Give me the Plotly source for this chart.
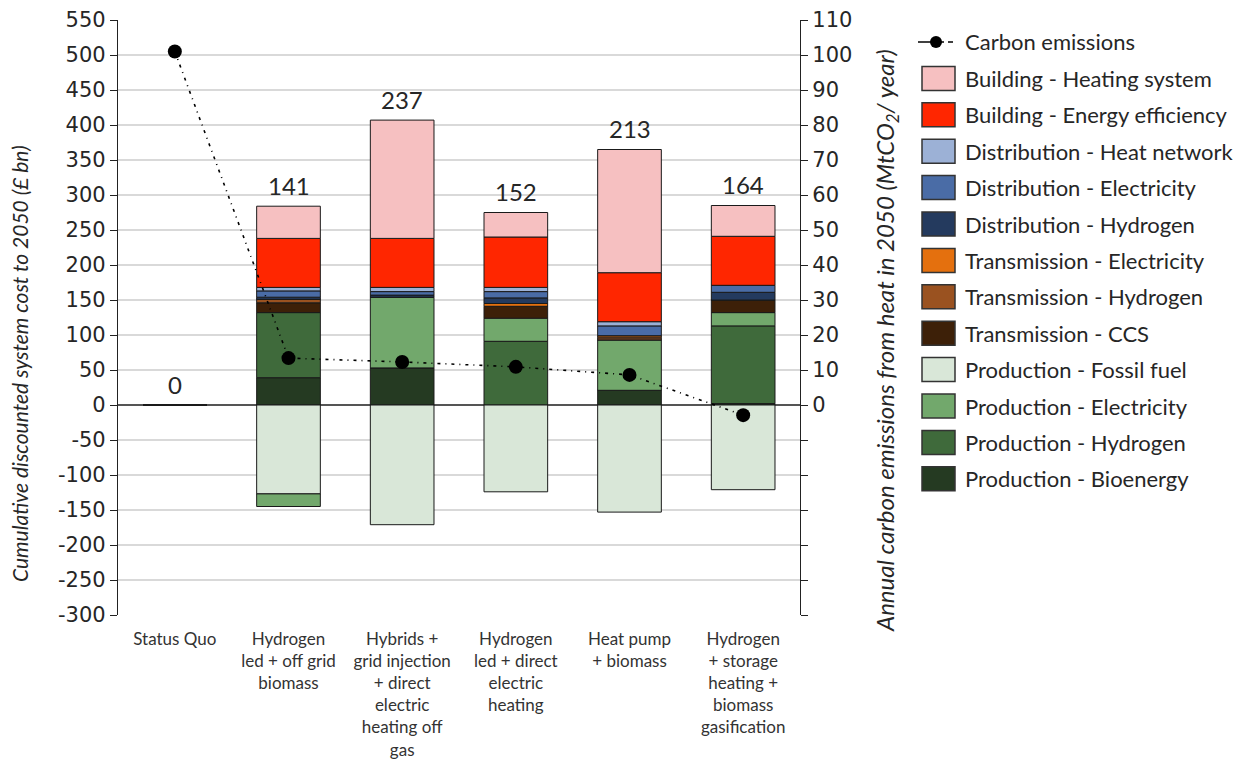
import plotly.graph_objects as go

# ---------------- data ----------------
categories = [
    "Status Quo",
    "Hydrogen<br>led + off grid<br>biomass",
    "Hybrids +<br>grid injection<br>+ direct<br>electric<br>heating off<br>gas",
    "Hydrogen<br>led + direct<br>electric<br>heating",
    "Heat pump<br>+ biomass",
    "Hydrogen<br>+ storage<br>heating +<br>biomass<br>gasification",
]

prod_bioenergy = [0, 39, 53, 0, 21, 2]
prod_hydrogen = [0, 93, 0, 91, 0, 111]
prod_fossil = [0, -127, -171, -124, -153, -121]
prod_electricity = [0, -18, 101, 33, 72, 19]
trans_ccs = [0, 14, 0, 17, 0, 18]
trans_hydrogen = [0, 5, 0, 0, 3, 0]
trans_electricity = [0, 0, 0, 4, 3, 0]
dist_hydrogen = [0, 3, 3, 8, 0, 11]
dist_electricity = [0, 9, 5, 9, 14, 10]
dist_heat_network = [0, 5, 6, 6, 6, 0]
bld_energy_eff = [0, 70, 70, 72, 70, 70]
bld_heating = [0, 46, 169, 35, 176, 44]

total_labels = [0, 141, 237, 152, 213, 164]
carbon_emissions = [101, 13.4, 12.3, 10.9, 8.6, -2.9]

left_ticks = list(range(-300, 551, 50))
right_ticks = list(range(0, 111, 10))
right_minor_ticks = list(range(-60, 0, 10))

# series in stacking order (bottom -> top) with legend names and colours
series = [
    ("Production - Bioenergy", prod_bioenergy, "#253a22"),
    ("Production - Hydrogen", prod_hydrogen, "#3f6a3b"),
    ("Production - Fossil fuel", prod_fossil, "#d9e7d8"),
    ("Production - Electricity", prod_electricity, "#72a86c"),
    ("Transmission - CCS", trans_ccs, "#3d2008"),
    ("Transmission - Hydrogen", trans_hydrogen, "#9a5220"),
    ("Transmission - Electricity", trans_electricity, "#e4700e"),
    ("Distribution - Hydrogen", dist_hydrogen, "#243a5e"),
    ("Distribution - Electricity", dist_electricity, "#4a6ca6"),
    ("Distribution - Heat network", dist_heat_network, "#9cb1d6"),
    ("Building - Energy efficiency", bld_energy_eff, "#ff2600"),
    ("Building - Heating system", bld_heating, "#f6c0c1"),
]
legend_order = [
    "Building - Heating system",
    "Building - Energy efficiency",
    "Distribution - Heat network",
    "Distribution - Electricity",
    "Distribution - Hydrogen",
    "Transmission - Electricity",
    "Transmission - Hydrogen",
    "Transmission - CCS",
    "Production - Fossil fuel",
    "Production - Electricity",
    "Production - Hydrogen",
    "Production - Bioenergy",
]
colour_of = {n: c for n, _, c in series}

# ---------------- figure ----------------
fig = go.Figure()
for name, vals, col in series:
    fig.add_trace(go.Bar(
        x=categories, y=vals, name=name, width=0.56,
        marker=dict(color=col, line=dict(color="#1a1a1a", width=1)),
        showlegend=False,
    ))

fig.add_trace(go.Scatter(
    x=categories, y=carbon_emissions, name="Carbon emissions", yaxis="y2",
    mode="lines+markers",
    line=dict(color="black", width=1.6, dash="3px,5px,1px,5px"),
    marker=dict(color="black", size=14),
    showlegend=False,
))

# total labels above bars
pos_tops = [sum(max(s[1][i], 0) for s in series) for i in range(len(categories))]
for i, cat in enumerate(categories):
    fig.add_annotation(
        x=cat, y=pos_tops[i], xref="x", yref="y", text=str(total_labels[i]),
        showarrow=False, yanchor="middle", yshift=21,
        font=dict(family="Lato", size=24, color="#262626"),
    )

# ---------------- layout geometry ----------------
OFF = 8  # page body margin
FW, FH = 1247 - OFF, 776 - OFF
L, R, T, B = 118 - OFF, 800 - OFF, 20 - OFF, 615 - OFF
W, H = R - L, B - T


def px(xs):
    return (xs - OFF - L) / W


def py(ys):
    return (B - (ys - OFF)) / H


shapes = []
annotations = []
text_x = 963
sw_x0, sw_x1 = 922, 955
first_y, step = 42, 36.4
leg_font = dict(family="Lato", size=22, color="#262626")

# carbon emissions legend item
cy = first_y
shapes.append(dict(type="line", xref="paper", yref="paper",
                   x0=px(918), x1=px(944), y0=py(cy), y1=py(cy),
                   line=dict(color="black", width=1.5)))
shapes.append(dict(type="line", xref="paper", yref="paper",
                   x0=px(948), x1=px(953), y0=py(cy), y1=py(cy),
                   line=dict(color="black", width=1.5)))
shapes.append(dict(type="circle", xref="paper", yref="paper",
                   x0=px(930), x1=px(942), y0=py(cy + 6), y1=py(cy - 6),
                   fillcolor="black", line=dict(color="black", width=0)))
annotations.append(dict(x=px(text_x), y=py(cy), xref="paper", yref="paper",
                        text="Carbon emissions", showarrow=False,
                        xanchor="left", yanchor="middle", font=leg_font))

for k, name in enumerate(legend_order):
    cy = first_y + step * (k + 1)
    shapes.append(dict(type="rect", xref="paper", yref="paper",
                       x0=px(sw_x0), x1=px(sw_x1), y0=py(cy + 12), y1=py(cy - 12),
                       fillcolor=colour_of[name],
                       line=dict(color="#333333", width=1.5)))
    annotations.append(dict(x=px(text_x), y=py(cy), xref="paper", yref="paper",
                            text=name, showarrow=False,
                            xanchor="left", yanchor="middle", font=leg_font))

# axis titles
annotations.append(dict(
    x=px(20), y=py(364), xref="paper", yref="paper", textangle=-90,
    text="<i>Cumulative discounted system cost to 2050 (£ bn)</i>",
    showarrow=False, xanchor="center", yanchor="middle",
    font=dict(family="Lato", size=21, color="#262626")))
annotations.append(dict(
    x=px(886), y=py(341), xref="paper", yref="paper", textangle=-90,
    text="<i>Annual carbon emissions from heat in 2050 (MtCO<sub>2</sub>/ year)</i>",
    showarrow=False, xanchor="center", yanchor="middle",
    font=dict(family="Lato", size=24, color="#262626")))

for a in annotations:
    fig.add_annotation(**a)

fig.update_layout(
    width=FW, height=FH,
    margin=dict(l=L, r=FW - R, t=T, b=FH - B, autoexpand=False),
    paper_bgcolor="white", plot_bgcolor="white",
    barmode="relative",
    showlegend=False,
    shapes=shapes,
    xaxis=dict(
        type="category", showgrid=False, showline=False, ticks="",
        automargin=False, ticklabelstandoff=12,
        tickfont=dict(family="Lato", size=17, color="#333333"),
    ),
    yaxis=dict(
        range=[-300, 550], tickvals=left_ticks,
        ticktext=[str(v) for v in left_ticks], automargin=False,
        showgrid=True, gridcolor="#d9d9d9", gridwidth=1.5,
        zeroline=True, zerolinecolor="#555555", zerolinewidth=1.5,
        showline=True, linecolor="#222222", linewidth=1.2,
        ticks="outside", ticklen=7, tickcolor="#222222",
        tickfont=dict(family="DejaVu Sans", size=21, color="#262626"),
    ),
    yaxis2=dict(
        range=[-60, 110], overlaying="y", side="right", automargin=False,
        tickvals=right_ticks, ticktext=[str(v) for v in right_ticks],
        minor=dict(tickvals=right_minor_ticks, ticks="outside", ticklen=7,
                   tickcolor="#222222", showgrid=False),
        showgrid=False, zeroline=False,
        showline=True, linecolor="#222222", linewidth=1.2,
        ticks="outside", ticklen=7, tickcolor="#222222",
        tickfont=dict(family="DejaVu Sans", size=21, color="#262626"),
    ),
)

fig.write_html("out.html")
